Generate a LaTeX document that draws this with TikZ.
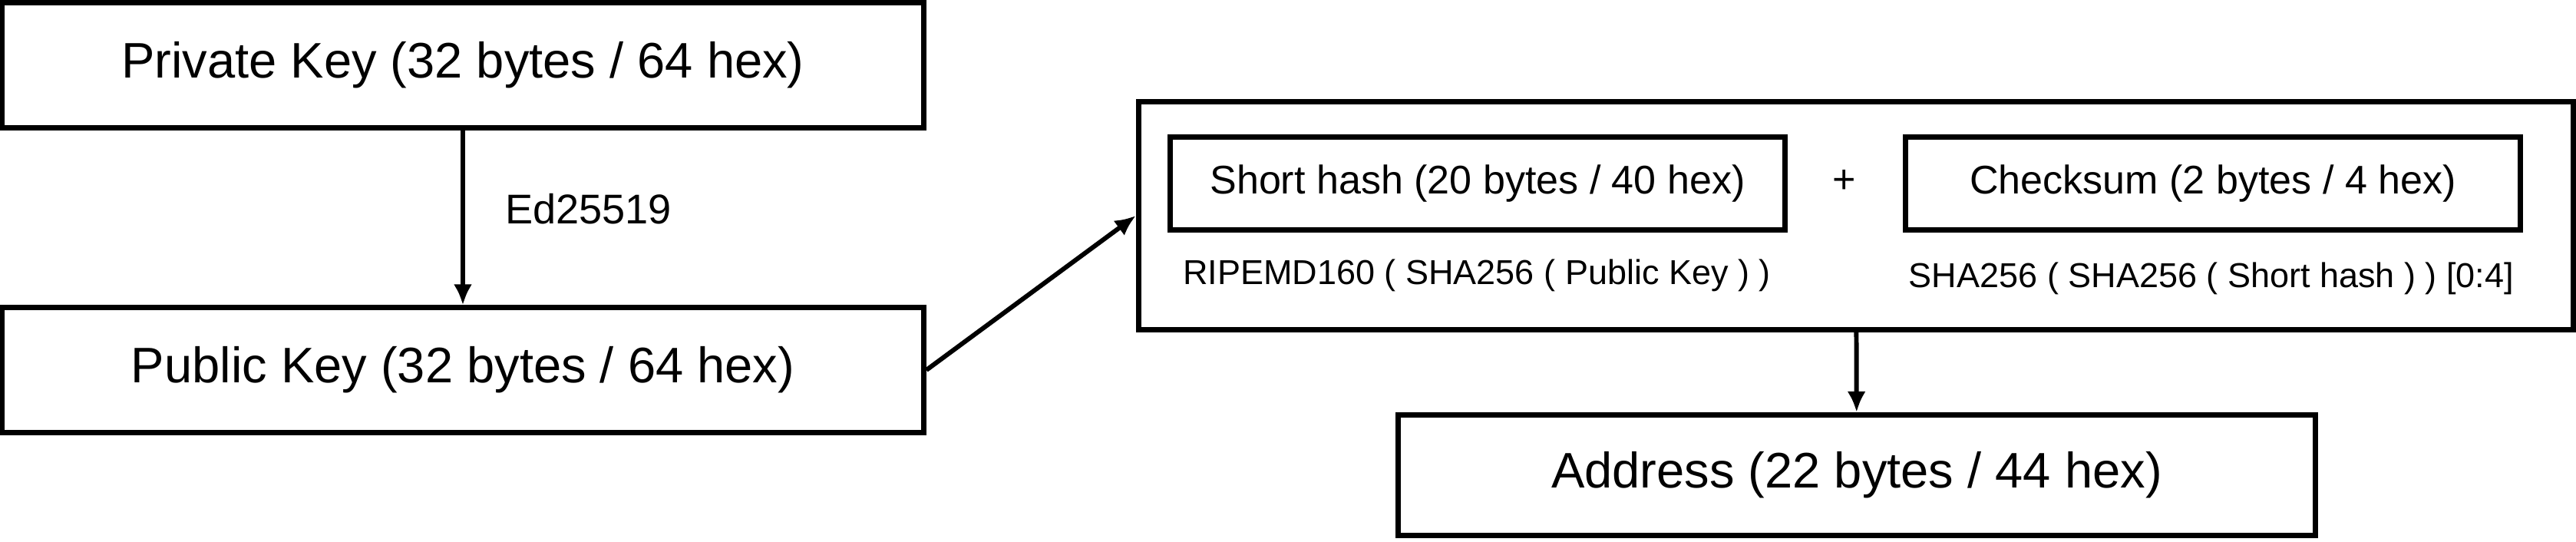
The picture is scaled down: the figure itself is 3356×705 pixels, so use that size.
\documentclass[tikz,border=0pt]{standalone}
\usepackage{fontspec}
\setmainfont{Liberation Sans}
\usetikzlibrary{arrows.meta}

\tikzset{
  keybox/.style={draw, line width=2pt, inner sep=0pt, minimum width=12cm, minimum height=1.62cm,
    font=\fontsize{18.5}{22}\selectfont},
  hashbox/.style={draw, line width=2pt, inner sep=0pt, minimum width=8cm, minimum height=1.21cm,
    font=\fontsize{14.8}{18}\selectfont},
  subtext/.style={inner sep=0pt, font=\fontsize{12.8}{15}\selectfont},
  arrow/.style={line width=1.7pt, -{Latex[length=0.27cm,width=0.24cm]}}
}

\begin{document}
\begin{tikzpicture}[x=0.01cm,y=-0.01cm]
   \useasboundingbox (0,0) rectangle (3356,705);

   \node[keybox] (priv) at (603,85) {Private Key (32 bytes / 64 hex)};
   \node[keybox] (pub) at (603,482) {Public Key (32 bytes / 64 hex)};

   \node[draw, line width=2pt, inner sep=0pt, minimum width=18.685cm, minimum height=2.97cm] (addrparts) at (2418,281) {};
   \node[hashbox] (short) at (1925,239) {Short hash (20 bytes / 40 hex)};
   \node[hashbox] (check) at (2883,239) {Checksum (2 bytes / 4 hex)};
   \node[inner sep=0pt, font=\fontsize{14.8}{18}\selectfont] (plus) at (2403,236) {+};
   \node[subtext] (ripemd) at (1924,359) {RIPEMD160 ( SHA256 ( Public Key ) )};
   \node[subtext] (sha) at (2881,363) {SHA256 ( SHA256 ( Short hash ) ) [0:4]};

   \node[keybox, minimum width=11.95cm, minimum height=1.57cm] (addr) at (2419,619) {Address (22 bytes / 44 hex)};

   \draw[arrow] (priv) -- node[right=0.52cm, pos=0.45, inner sep=0pt, font=\fontsize{15.4}{18}\selectfont] (ed) {Ed25519} (pub);
   \draw[arrow] (pub.east) -- (addrparts.west);
   \draw[arrow] (addrparts) -- (addr);

\end{tikzpicture}
\end{document}
